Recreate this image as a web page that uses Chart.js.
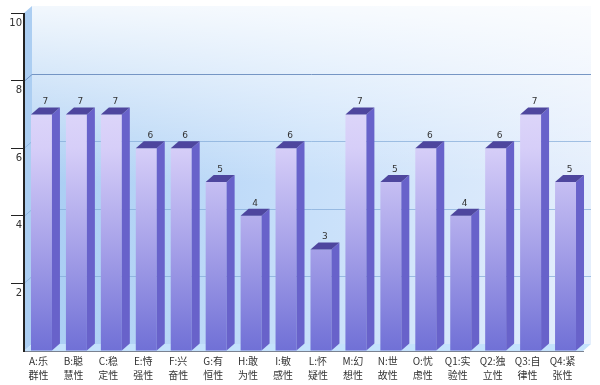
<!DOCTYPE html>
<html>
<head>
<meta charset="utf-8">
<script src="https://cdn.jsdelivr.net/npm/chart.js@4.4.0/dist/chart.umd.min.js"></script>
<style>
html, body { margin: 0; padding: 0; background: #fff; }
#wrap { width: 600px; height: 385px; }
</style>
</head>
<body>
<div id="wrap"><canvas id="myChart"></canvas></div>
<script>
// data
var categories = [
    ['A:乐', '群性'], ['B:聪', '慧性'], ['C:稳', '定性'], ['E:恃', '强性'],
    ['F:兴', '奋性'], ['G:有', '恒性'], ['H:敢', '为性'], ['I:敏', '感性'],
    ['L:怀', '疑性'], ['M:幻', '想性'], ['N:世', '故性'], ['O:忧', '虑性'],
    ['Q1:实', '验性'], ['Q2:独', '立性'], ['Q3:自', '律性'], ['Q4:紧', '张性']
];
var scores = [7, 7, 7, 6, 6, 5, 4, 6, 3, 7, 5, 6, 4, 6, 7, 5];
var yMin = 0, yMax = 10, yStep = 2;

// depth of the fake 3d
var DX = 8, DY = 7;

var threeD = {
    id: 'threeD',
    // walls go under the axes, so draw them first
    beforeDraw: function(chart) {
        var ctx = chart.ctx, a = chart.chartArea, ys = chart.scales.y;
        var l = a.left + DX, t = a.top - DY, r = a.right + DX, b = a.bottom - DY;
        ctx.save();
        // back wall
        var g = ctx.createLinearGradient(l, 0, r, 0);
        g.addColorStop(0, 'rgb(168,205,243)');
        g.addColorStop(0.5, 'rgb(200,224,250)');
        g.addColorStop(1, 'rgb(228,238,252)');
        ctx.fillStyle = g;
        ctx.fillRect(l, t, r - l, b - t);
        var w = ctx.createLinearGradient(0, t, 0, a.top + 170);
        w.addColorStop(0, 'rgba(255,255,255,0.85)');
        w.addColorStop(1, 'rgba(255,255,255,0)');
        ctx.fillStyle = w;
        ctx.fillRect(l, t, r - l, 180);
        // left wall
        ctx.beginPath();
        ctx.moveTo(a.left, a.top); ctx.lineTo(l, t); ctx.lineTo(l, b); ctx.lineTo(a.left, a.bottom);
        ctx.closePath();
        ctx.fillStyle = 'rgb(172,206,242)';
        ctx.fill();
        // floor
        ctx.beginPath();
        ctx.moveTo(a.left, a.bottom); ctx.lineTo(l, b); ctx.lineTo(r, b); ctx.lineTo(a.right, a.bottom);
        ctx.closePath();
        ctx.fillStyle = 'rgb(196,226,252)';
        ctx.fill();
        // grid on the back wall
        ctx.lineWidth = 1;
        for (var v = yStep; v < yMax; v += yStep) {
            var py = Math.round(ys.getPixelForValue(v)) + 0.5;
            ctx.strokeStyle = v === 8 ? 'rgba(105,140,190,0.9)' : 'rgba(130,170,215,0.7)';
            ctx.beginPath();
            ctx.moveTo(a.left, py);
            ctx.lineTo(l, py - DY);
            ctx.lineTo(r, py - DY);
            ctx.stroke();
        }
        ctx.restore();
    },
    afterDatasetsDraw: function(chart) {
        var ctx = chart.ctx;
        var meta = chart.getDatasetMeta(0);
        ctx.save();
        meta.data.forEach(function(bar, i) {
            var x0 = bar.x - bar.width / 2, x1 = bar.x + bar.width / 2;
            var top = bar.y, base = bar.base;
            // side
            ctx.beginPath();
            ctx.moveTo(x1, top); ctx.lineTo(x1 + DX, top - DY);
            ctx.lineTo(x1 + DX, base - DY); ctx.lineTo(x1, base);
            ctx.closePath();
            ctx.fillStyle = 'rgb(104,98,202)';
            ctx.fill();
            // top
            ctx.beginPath();
            ctx.moveTo(x0, top); ctx.lineTo(x0 + DX, top - DY);
            ctx.lineTo(x1 + DX, top - DY); ctx.lineTo(x1, top);
            ctx.closePath();
            ctx.fillStyle = 'rgb(78,70,158)';
            ctx.fill();
            // value
            ctx.fillStyle = '#333';
            ctx.font = '9px "DejaVu Sans"';
            ctx.textAlign = 'center';
            ctx.textBaseline = 'bottom';
            ctx.fillText(String(scores[i]), bar.x + DX / 2, top - DY - 1);
        });
        ctx.restore();
    },
    afterDraw: function(chart) {
        // make sure the value axis line is on top
        var ctx = chart.ctx, a = chart.chartArea;
        ctx.save();
        ctx.strokeStyle = '#222';
        ctx.lineWidth = 1;
        ctx.beginPath();
        ctx.moveTo(Math.round(a.left) - 0.5, a.top);
        ctx.lineTo(Math.round(a.left) - 0.5, a.bottom + 1);
        ctx.stroke();
        ctx.restore();
    }
};

var ctx = document.getElementById('myChart').getContext('2d');
var chart = new Chart(ctx, {
    type: 'bar',
    data: {
        labels: categories,
        datasets: [{
            data: scores,
            backgroundColor: function(c) {
                var a = c.chart.chartArea;
                if (!a) return 'rgb(180,175,235)';
                var g = c.chart.ctx.createLinearGradient(0, a.top, 0, a.bottom);
                g.addColorStop(0, 'rgb(236,232,253)');
                g.addColorStop(0.4, 'rgb(214,206,248)');
                g.addColorStop(0.7, 'rgb(165,160,232)');
                g.addColorStop(1, 'rgb(112,112,214)');
                return g;
            },
            borderWidth: 0,
            barPercentage: 0.6,
            categoryPercentage: 1
        }]
    },
    options: {
        responsive: true,
        maintainAspectRatio: false,
        animation: false,
        layout: { padding: { top: 13, right: 17, left: 0, bottom: 0 } },
        plugins: { legend: { display: false }, tooltip: { enabled: false } },
        scales: {
            x: {
                grid: { display: false, drawTicks: false },
                border: { display: true, color: '#7a8290', width: 1 },
                ticks: {
                    color: '#333',
                    font: { family: '"Noto Sans CJK SC"', size: 10, lineHeight: 1.4 },
                    padding: 3,
                    labelOffset: -3,
                    maxRotation: 0,
                    autoSkip: false
                },
                afterFit: function(s) { s.height = 34; }
            },
            y: {
                min: yMin, max: yMax,
                grid: {
                    drawOnChartArea: false,
                    drawTicks: true,
                    tickLength: 13,
                    color: function(c) { return c.tick && c.tick.value === 0 ? 'rgba(0,0,0,0)' : '#222'; }
                },
                border: { display: true, color: '#222', width: 1 },
                ticks: {
                    stepSize: yStep,
                    color: '#333',
                    font: { family: '"DejaVu Sans"', size: 10 },
                    padding: -11,
                    labelOffset: 10,
                    callback: function(v) { return v === 0 ? '' : v; }
                },
                afterFit: function(s) { s.width = 24; }
            }
        }
    },
    plugins: [threeD]
});
</script>
</body>
</html>
